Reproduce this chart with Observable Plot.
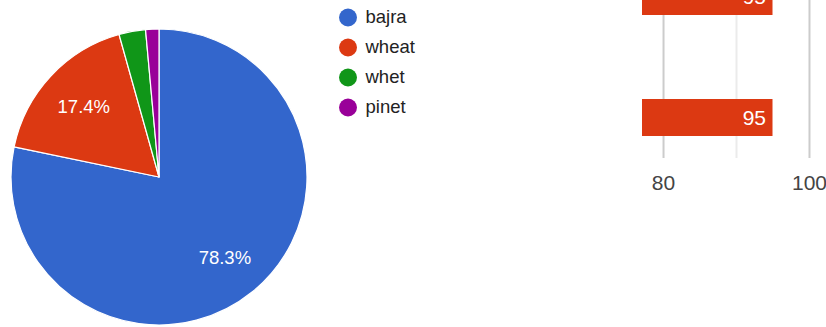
<!DOCTYPE html>
<html>
<head>
<meta charset="utf-8">
<script src="https://cdn.jsdelivr.net/npm/d3@7"></script>
<script src="https://cdn.jsdelivr.net/npm/@observablehq/plot@0.6"></script>
<style>
  html, body { margin: 0; padding: 0; background: #fff; }
  #root { position: relative; width: 826px; height: 327px; overflow: hidden; font-family: "Liberation Sans", Arial, sans-serif; }
  #root > div { position: absolute; }
  svg { overflow: visible; }
</style>
</head>
<body>
<div id="root">
  <div id="pie" style="left:0;top:0;"></div>
  <div id="legend" style="left:330px;top:0;"></div>
  <div id="bars" style="left:600px;top:-70px;"></div>
</div>
<script>
// ---- data ----
const categories = ["bajra", "wheat", "whet", "pinet"];
const counts = [54, 12, 2, 1];
const colors = ["#3366cc", "#dc3912", "#109618", "#990099"];

const barCategories = ["row1", "row2"];
const barValues = [95, 95];
const barAxisMin = 77.12;
const barAxisMax = 102.33;
const barTicks = [80, 100];
const barMinorTicks = [90];

// ---- pie ----
const total = d3.sum(counts);
const pieData = categories.map((c, i) => ({name: c, value: counts[i], share: counts[i] / total}));
const arcs = d3.pie().sort(null).value(d => d.value)(pieData);
const labelData = arcs
  .filter(a => a.data.share >= 0.05)
  .map(a => {
    const mid = (a.startAngle + a.endAngle) / 2;
    return {x: 0.7 * Math.sin(mid), y: 0.7 * Math.cos(mid), text: d3.format(".1%")(a.data.share)};
  });
const colorOf = d3.scaleOrdinal(categories, colors);

function pieSlices(index, scales, values, dimensions) {
  const cx = scales.x(0), cy = scales.y(0), r = scales.x(1) - scales.x(0);
  const arc = d3.arc().innerRadius(0).outerRadius(r);
  const g = d3.create("svg:g").attr("transform", `translate(${cx},${cy})`);
  g.selectAll("path").data(arcs).join("path")
    .attr("d", arc)
    .attr("fill", d => colorOf(d.data.name))
    .attr("stroke", "#fff")
    .attr("stroke-width", 1.2)
    .attr("stroke-linejoin", "round");
  return g.node();
}

const pie = Plot.plot({
  width: 330, height: 327,
  margin: 0,
  x: {domain: [-1, 1], range: [11, 307], axis: null},
  y: {domain: [-1, 1], range: [325, 29], axis: null},
  style: {fontFamily: "Liberation Sans, Arial, sans-serif", background: "transparent"},
  marks: [
    pieSlices,
    Plot.text(labelData, {x: "x", y: "y", text: "text", fill: "#fff", fontSize: 18.5, lineAnchor: "middle"})
  ]
});
document.getElementById("pie").append(pie);

// ---- legend ----
const legend = Plot.plot({
  width: 100, height: 125,
  margin: 0,
  x: {domain: [0, 1], range: [17.5, 100], axis: null},
  y: {type: "point", domain: categories, range: [17.3, 107.3], padding: 0, axis: null},
  color: {domain: categories, range: colors},
  style: {fontFamily: "Liberation Sans, Arial, sans-serif", background: "transparent"},
  marks: [
    Plot.dot(categories, {x: () => 0, y: d => d, fill: d => d, r: 9}),
    Plot.text(categories, {x: () => 0, y: d => d, text: d => d, dx: 17.5, textAnchor: "start", fill: "#222", fontSize: 18.5, lineAnchor: "middle"})
  ]
});
document.getElementById("legend").append(legend);

// ---- bars ----
const barData = barCategories.map((c, i) => ({cat: c, value: barValues[i]}));
const bars = Plot.plot({
  width: 226, height: 290,
  marginTop: 0, marginBottom: 62, marginLeft: 0, marginRight: 0,
  x: {domain: [barAxisMin, barAxisMax], range: [42, 226]},
  y: {type: "band", domain: barCategories, range: [6, 248], paddingInner: 84 / 121, paddingOuter: 42 / 121, axis: null},
  style: {fontFamily: "Liberation Sans, Arial, sans-serif", background: "transparent"},
  marks: [
    Plot.ruleX(barMinorTicks, {x: d => d, stroke: "#ebebeb", strokeWidth: 2}),
    Plot.ruleX(barTicks, {x: d => d, stroke: "#cccccc", strokeWidth: 2}),
    Plot.barX(barData, {x1: () => barAxisMin, x2: "value", y: "cat", fill: "#dc3912"}),
    Plot.text(barData, {x: "value", y: "cat", text: d => String(d.value), textAnchor: "end", dx: -7, fill: "#fff", fontSize: 21}),
    Plot.axisX({ticks: barTicks, tickSize: 0, tickPadding: 17, fontSize: 21, fill: "#444", label: null})
  ]
});
document.getElementById("bars").append(bars);
</script>
</body>
</html>
